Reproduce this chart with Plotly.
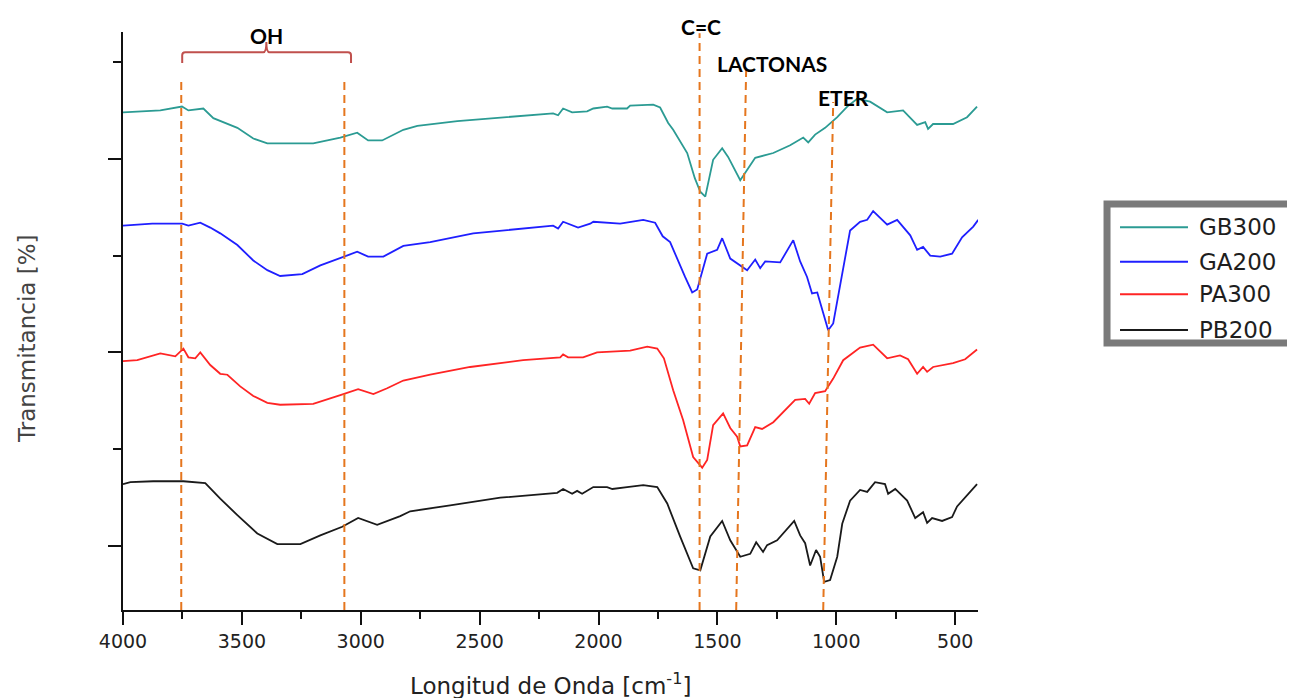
import plotly.graph_objects as go

# FTIR spectra (wavenumber in cm-1, transmittance in arbitrary offset units)
wn_gb300 = [4000, 3843, 3752, 3725, 3662, 3620, 3519, 3452, 3393, 3200,
            3086, 3015, 2969, 2910, 2821, 2762, 2594, 2401, 2191, 2170,
            2149, 2111, 2048, 2022, 1964, 1942, 1880, 1867, 1770, 1741,
            1728, 1707, 1686, 1627, 1595, 1572, 1551, 1539, 1518, 1480,
            1455, 1404, 1375, 1341, 1265, 1194, 1139, 1118, 1089, 1047,
            996, 954, 912, 858, 786, 719, 660, 626, 614, 593,
            509, 450, 408]
t_gb300 = [54.8, 55.0, 55.4, 55.0, 55.2, 54.2, 53.2, 52.1, 51.6, 51.6,
           52.2, 52.7, 51.9, 51.9, 53.0, 53.4, 53.9, 54.3, 54.7, 54.5,
           55.2, 54.8, 54.9, 55.2, 55.4, 55.2, 55.2, 55.5, 55.6, 55.3,
           54.7, 53.7, 53.0, 50.6, 48.0, 46.6, 46.1, 47.5, 49.9, 51.1,
           50.2, 47.8, 48.8, 50.1, 50.6, 51.4, 52.2, 51.7, 52.5, 53.2,
           54.3, 55.4, 56.2, 55.9, 54.8, 55.0, 53.5, 53.8, 53.1, 53.6,
           53.6, 54.3, 55.4]

wn_ga200 = [4000, 3877, 3751, 3725, 3675, 3633, 3591, 3519, 3452, 3393,
            3339, 3246, 3170, 3078, 3015, 2969, 2905, 2821, 2708, 2527,
            2275, 2191, 2170, 2149, 2086, 2035, 2022, 1909, 1812, 1762,
            1730, 1699, 1636, 1606, 1585, 1543, 1501, 1480, 1446, 1375,
            1341, 1320, 1299, 1236, 1181, 1152, 1123, 1102, 1080, 1059,
            1034, 1013, 975, 942, 900, 870, 845, 786, 744, 689,
            660, 635, 605, 563, 513, 471, 424, 403]
t_ga200 = [43.1, 43.3, 43.3, 43.1, 43.4, 42.9, 42.3, 41.1, 39.5, 38.5,
           37.9, 38.1, 39.0, 39.8, 40.4, 39.9, 39.9, 41.0, 41.4, 42.3,
           42.9, 43.1, 42.8, 43.5, 42.9, 43.3, 43.5, 43.3, 43.7, 43.4,
           42.0, 41.4, 37.8, 36.2, 36.5, 40.2, 40.6, 41.8, 39.7, 38.5,
           39.6, 38.7, 39.4, 39.3, 41.6, 39.4, 37.8, 36.1, 36.2, 34.4,
           32.3, 33.0, 38.2, 42.6, 43.5, 43.7, 44.6, 43.2, 43.7, 42.1,
           40.6, 40.9, 40.0, 39.9, 40.2, 41.9, 43.0, 43.7]

wn_pa300 = [4000, 3940, 3843, 3780, 3746, 3725, 3696, 3675, 3633, 3591,
            3561, 3507, 3452, 3393, 3339, 3200, 3086, 3011, 2947, 2889,
            2821, 2708, 2540, 2317, 2161, 2149, 2128, 2065, 2006, 1867,
            1795, 1753, 1725, 1686, 1644, 1602, 1564, 1543, 1518, 1476,
            1446, 1417, 1404, 1375, 1341, 1312, 1265, 1173, 1131, 1114,
            1089, 1047, 1013, 971, 900, 845, 786, 732, 698, 660,
            635, 618, 593, 509, 458, 408]
t_pa300 = [29.1, 29.2, 29.9, 29.6, 30.4, 29.5, 29.4, 30.0, 28.7, 27.8,
           27.7, 26.5, 25.5, 24.8, 24.6, 24.7, 25.6, 26.2, 25.7, 26.3,
           27.1, 27.7, 28.5, 29.2, 29.5, 29.8, 29.5, 29.5, 30.0, 30.2,
           30.6, 30.4, 29.4, 26.1, 23.0, 19.2, 18.1, 18.9, 22.5, 23.7,
           22.2, 21.3, 20.3, 20.4, 22.3, 22.1, 22.8, 25.1, 25.2, 24.7,
           25.8, 26.0, 27.3, 29.2, 30.5, 30.8, 29.4, 29.7, 29.3, 27.8,
           28.5, 28.0, 28.5, 28.9, 29.3, 30.3]

wn_pb200 = [4000, 3969, 3873, 3746, 3654, 3591, 3519, 3435, 3351, 3254,
            3170, 3078, 3011, 2931, 2834, 2792, 2624, 2413, 2174, 2149,
            2111, 2090, 2069, 2022, 1964, 1942, 1880, 1812, 1753, 1711,
            1657, 1602, 1572, 1530, 1480, 1446, 1404, 1362, 1337, 1308,
            1291, 1249, 1177, 1152, 1131, 1110, 1085, 1068, 1051, 1026,
            996, 975, 942, 900, 870, 837, 795, 782, 752, 702,
            668, 635, 618, 597, 555, 513, 492, 408]
t_pb200 = [16.4, 16.6, 16.7, 16.7, 16.5, 14.9, 13.2, 11.3, 10.2, 10.2,
           11.1, 12.0, 12.9, 12.2, 13.1, 13.6, 14.2, 15.0, 15.5, 15.9,
           15.4, 15.7, 15.4, 16.1, 16.1, 15.9, 16.1, 16.3, 16.1, 14.4,
           11.0, 7.7, 7.5, 11.0, 12.6, 10.6, 8.9, 9.2, 10.4, 9.4,
           10.1, 10.6, 12.6, 11.1, 10.3, 8.0, 9.6, 8.9, 6.3, 6.5,
           8.9, 12.3, 14.7, 15.8, 15.6, 16.6, 16.4, 15.4, 15.9, 14.7,
           12.9, 13.5, 12.4, 12.9, 12.6, 13.0, 14.1, 16.4]

series_names = ["GB300", "GA200", "PA300", "PB200"]
series_colors = ["#2b9b93", "#1f1fff", "#ff2424", "#1a1a1a"]

# band markers: label, wavenumber at top, wavenumber at bottom
band_labels = ["OH", "C=C", "LACTONAS", "ETER"]
band_label_wn = [3397, 1568, 1270, 971]
oh_edges = [3755, 3069]
cc_wn = 1575
lact_wn = [1379, 1421]
eter_wn = [1013, 1055]

x_ticks = [4000, 3500, 3000, 2500, 2000, 1500, 1000, 500]

fig = go.Figure()
for wn, t, name, color in zip([wn_gb300, wn_ga200, wn_pa300, wn_pb200],
                              [t_gb300, t_ga200, t_pa300, t_pb200],
                              series_names, series_colors):
    fig.add_trace(go.Scatter(x=wn, y=t, mode="lines", name=name,
                             line=dict(color=color, width=1.8),
                             showlegend=False))

orange = "#e5761e"
dash = dict(color=orange, width=2, dash="8px,5px")
shapes = []
for w in oh_edges:
    shapes.append(dict(type="line", xref="x", yref="paper", x0=w, x1=w,
                       y0=0, y1=0.9135, line=dash))
shapes.append(dict(type="line", xref="x", yref="paper", x0=cc_wn, x1=cc_wn,
                   y0=0, y1=0.998, line=dash))
shapes.append(dict(type="line", xref="x", yref="paper", x0=lact_wn[1], x1=lact_wn[0],
                   y0=0, y1=0.938, line=dash))
shapes.append(dict(type="line", xref="x", yref="paper", x0=eter_wn[1], x1=eter_wn[0],
                   y0=0, y1=0.879, line=dash))

# brace over the OH region
shapes.append(dict(
    type="path", xref="x", yref="paper",
    path=("M3751,0.9464 L3751,0.9597 Q3751,0.9649 3738,0.9649 L3410,0.9649 "
          "Q3397,0.9649 3397,0.9827 Q3397,0.9649 3384,0.9649 L3054,0.9649 "
          "Q3041,0.9649 3041,0.9597 L3041,0.9464"),
    line=dict(color="#c0504d", width=2)))

# legend box drawn by hand (thick grey frame)
shapes.append(dict(type="rect", xref="paper", yref="paper",
                   x0=1.1509, x1=1.45, y0=0.4619, y1=0.7024,
                   line=dict(color="#7a7a7a", width=7), fillcolor="white"))
legend_y = [0.6621, 0.6026, 0.5462, 0.4844]
for yy, color in zip(legend_y, series_colors):
    shapes.append(dict(type="line", xref="paper", yref="paper",
                       x0=1.1661, x1=1.2456, y0=yy, y1=yy,
                       line=dict(color=color, width=2)))

annotations = []
label_y = [0.9948, 1.0087, 0.946, 0.8875]
for txt, w, yy in zip(band_labels, band_label_wn, label_y):
    annotations.append(dict(text=txt, x=w, y=yy, xref="x", yref="paper",
                            showarrow=False, xanchor="center", yanchor="middle",
                            font=dict(family="Lato", size=21, color="black",
                                      weight="bold")))
for yy, name in zip(legend_y, series_names):
    annotations.append(dict(text=name, x=1.2561, y=yy, xref="paper", yref="paper",
                            showarrow=False, xanchor="left", yanchor="middle",
                            font=dict(family="DejaVu Sans", size=23, color="#1e1e1e")))

annotations.append(dict(text="Longitud de Onda [cm<sup>-1</sup>]", x=0.5, y=-0.128,
                        xref="paper", yref="paper", showarrow=False,
                        xanchor="center", yanchor="middle",
                        font=dict(family="DejaVu Sans", size=23, color="#222")))
annotations.append(dict(text="Transmitancia [%]", x=-0.1123, y=0.4706,
                        xref="paper", yref="paper", showarrow=False, textangle=-90,
                        xanchor="center", yanchor="middle",
                        font=dict(family="DejaVu Sans", size=23, color="#444")))

# page body has an 8px margin, so the figure is 8px smaller than the window
fig.update_layout(
    width=1287, height=690,
    margin=dict(l=115, r=317, t=24, b=88, pad=0),
    plot_bgcolor="white", paper_bgcolor="white",
    shapes=shapes, annotations=annotations,
    xaxis=dict(range=[4000, 404], tickmode="array", tickvals=x_ticks,
               showgrid=False, zeroline=False, showline=True,
               linecolor="#111", linewidth=2, ticks="outside", ticklen=13,
               tickwidth=2, tickcolor="#111",
               tickfont=dict(family="DejaVu Sans", size=19, color="#222"),
               minor=dict(tickmode="array",
                          tickvals=[3750, 3250, 2750, 2250, 1750, 1250, 750],
                          ticks="outside", ticklen=7, tickwidth=2, tickcolor="#111")),
    yaxis=dict(range=[3.4, 63.1], tickmode="array", tickvals=[10, 30, 50],
               showticklabels=False, showgrid=False, zeroline=False,
               showline=True, linecolor="#111", linewidth=2,
               ticks="outside", ticklen=13, tickwidth=2, tickcolor="#111",
               minor=dict(tickmode="array", tickvals=[20, 40, 60],
                          ticks="outside", ticklen=8, tickwidth=2, tickcolor="#111")),
)

fig.write_html("out.html")
